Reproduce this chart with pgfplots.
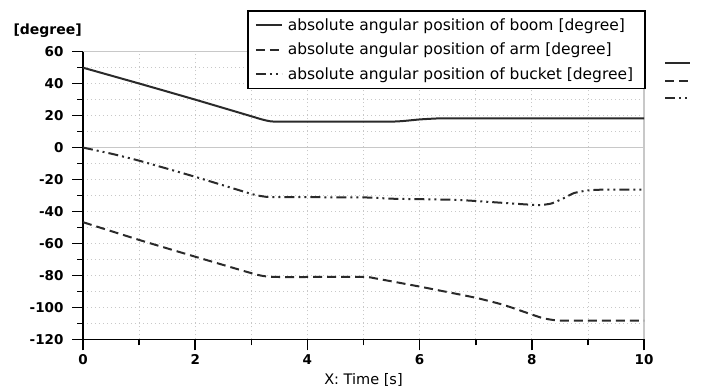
\documentclass[border=0pt]{standalone}
\usepackage{fontspec}
\setmainfont{DejaVu Sans}
\usepackage{pgfplots}
\pgfplotsset{compat=1.18}

\definecolor{curve}{HTML}{2A2A2A}
\definecolor{softgrid}{HTML}{C8C8C8}

% Boom, arm and bucket angles [degree] over time [s]
\pgfplotstableread{
t y
0 50
1 40.1
2 30
3 19.6
3.15 18
3.3 16.7
3.5 16.2
5.4 16.2
5.7 16.6
6 17.6
6.3 18.2
6.6 18.3
10 18.3
}\boom
\pgfplotstableread{
t y
0 -46.7
1 -57.8
2 -68.3
3 -78.6
3.2 -80.3
3.45 -81
5.0 -81
5.2 -81.8
6 -87
7 -94
7.5 -98.5
8 -104.5
8.2 -106.8
8.4 -108
8.6 -108.3
10 -108.3
}\arm
\pgfplotstableread{
t y
0 0
0.5 -3.8
1 -8.2
2 -18.3
3 -29
3.2 -30.5
3.4 -31
5 -31.2
5.5 -32
6 -32.3
6.7 -32.8
7.4 -34.4
7.9 -35.6
8.15 -36
8.35 -35
8.55 -32
8.75 -28.5
9 -26.8
9.3 -26.3
10 -26.3
}\bucket

\tikzset{
  curveline/.style={curve, line width=2bp},
  dashA/.style={dash pattern=on 9bp off 5bp},
  dashB/.style={dash pattern=on 10bp off 4bp on 2bp off 4bp on 2bp off 4bp},
}

\begin{document}
\begin{tikzpicture}
\begin{axis}[
  at={(0,0)}, anchor=south west,
  scale only axis,
  width=561bp, height=287.6bp,
  xmin=0, xmax=10, ymin=-120, ymax=60,
  xtick={0,2,...,10}, ytick={-120,-100,...,60},
  minor x tick num=1, minor y tick num=1,
  axis x line*=bottom, axis y line*=left,
  axis line style={black, line width=1.6bp, -},
  tick align=outside,
  major tick length=11bp, minor tick length=6bp,
  every tick/.style={black, line width=1.6bp},
  grid=both,
  grid style={softgrid, line width=0.8bp, dash pattern=on 1bp off 3bp},
  minor grid style={softgrid, line width=0.8bp, dash pattern=on 1bp off 3bp},
  /pgf/number format/assume math mode=true,
  ticklabel style={font=\fontsize{13.5bp}{16bp}\selectfont\bfseries},
  yticklabel style={xshift=-5bp},
  xticklabel style={yshift=-1bp},
  xlabel={X: Time [s]},
  xlabel style={font=\fontsize{14.5bp}{17bp}\selectfont, yshift=-2bp},
  clip=false,
  legend cell align=left,
  legend style={
    at={(0.2923,1.145)}, anchor=north west,
    draw=black, line width=1.6bp,
    font=\fontsize{15.5bp}{18bp}\selectfont,
    inner xsep=7bp, inner ysep=6bp,
    row sep=7bp,
    nodes={inner xsep=5bp},
  },
  legend image code/.code={\draw[#1, line width=2bp] (0bp,0bp) -- (26bp,0bp);},
]
% solid light reference lines
\draw[softgrid, line width=1.2bp] (axis cs:0,0) -- (axis cs:10,0);
\draw[softgrid, line width=1.2bp] (axis cs:0,60) -- (axis cs:10,60) -- (axis cs:10,-120);

\addplot[curveline, smooth, tension=0.3] table[x=t,y=y] {\boom};
\addlegendentry{absolute angular position of boom [degree]}
\addplot[curveline, dashA, smooth, tension=0.3] table[x=t,y=y] {\arm};
\addlegendentry{absolute angular position of arm [degree]}
\addplot[curveline, dashB, smooth, tension=0.3] table[x=t,y=y] {\bucket};
\addlegendentry{absolute angular position of bucket [degree]}
\end{axis}
% unit label
\node[anchor=west, font=\fontsize{14bp}{17bp}\selectfont\bfseries] at (-73bp,309bp) {[degree]};
% partially hidden second key at the right
\draw[curveline] (582bp,276bp) -- (607bp,276bp);
\draw[curveline, dashA] (582bp,258.6bp) -- (607bp,258.6bp);
\draw[curveline, dashB] (582bp,241bp) -- (607bp,241bp);
\pgfresetboundingbox
\path[use as bounding box] (-83bp,-47.7bp) rectangle (619bp,339.3bp);
\end{tikzpicture}
\end{document}
